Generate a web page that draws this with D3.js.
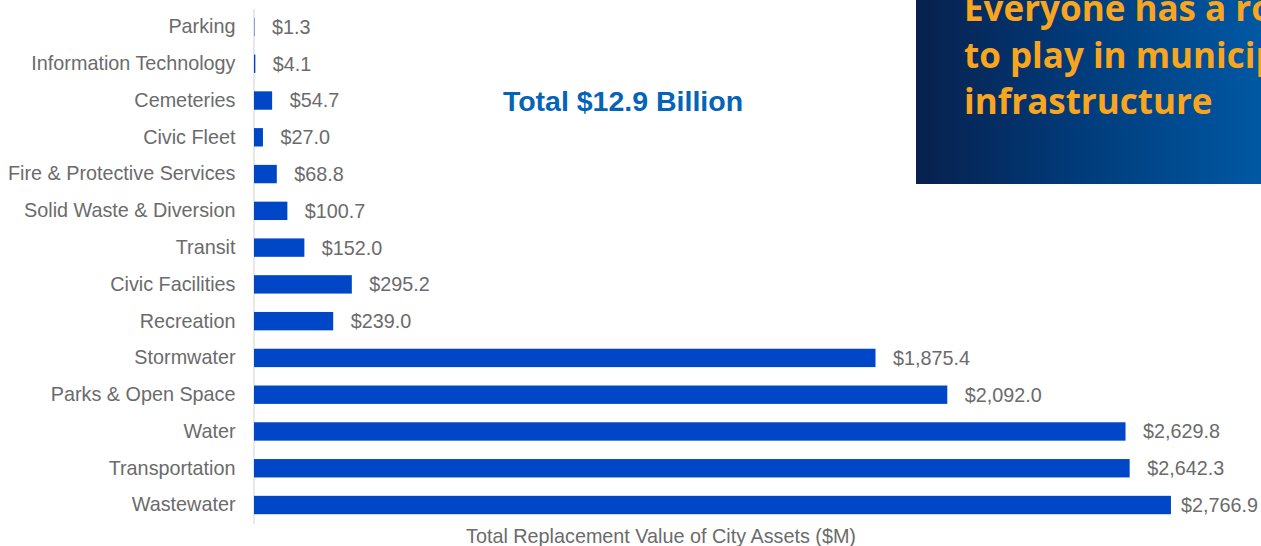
<!doctype html>
<html lang="en">
<head>
 <meta charset="utf-8">
 <title>City assets</title>
 <style>
 body{margin:0;background:#fff;}
 svg{display:block;font-family:"Liberation Sans",Arial,sans-serif;}
 </style>
 <script src="https://cdnjs.cloudflare.com/ajax/libs/d3/7.8.5/d3.min.js"></script>
</head>
<body>
 <svg width="1261" height="546"></svg>
 <script>

 const categories=["Parking","Information Technology","Cemeteries","Civic Fleet","Fire & Protective Services","Solid Waste & Diversion","Transit","Civic Facilities","Recreation","Stormwater","Parks & Open Space","Water","Transportation","Wastewater"];
 const values=[1.3,4.1,54.7,27.0,68.8,100.7,152.0,295.2,239.0,1875.4,2092.0,2629.8,2642.3,2766.9];
 const calloutLines=["Everyone has a role","to play in municipal","infrastructure"];

 const svgwid=1261;
 const svghei=546;
 const margin={top:8.6,left:253.5,bottom:22.6,right:90};
 const width=2766.9*0.3314;
 const height=svghei-(margin.top+margin.bottom);
 const grey="#6b6b6b";

 const data=categories.map((c,i)=>({name:c,value:values[i]}));

 const svg=d3.select("svg");

 // callout box, top right
 const defs=svg.append("defs");
 const grad=defs.append("linearGradient").attr("id","boxgrad")
 .attr("x1","0%").attr("x2","100%").attr("y1","0%").attr("y2","0%");
 grad.append("stop").attr("offset","0%").attr("stop-color","#08204d");
 grad.append("stop").attr("offset","45%").attr("stop-color","#013a78");
 grad.append("stop").attr("offset","100%").attr("stop-color","#0058a3");

 svg.append("rect")
 .attr("x",916).attr("y",0)
 .attr("width",345).attr("height",184)
 .attr("fill","url(#boxgrad)");

 svg.append("g").selectAll("text")
 .data(calloutLines)
 .enter()
 .append("text")
 .attr("x",964)
 .attr("y",(d,i)=>21+i*46.5)
 .text(d=>d)
 .style("font-family","'Open Sans', Lato, sans-serif")
 .style("font-weight","bold")
 .style("font-size","35px")
 .style("fill","#f9a51e");

 const xScale=d3.scaleLinear()
 .domain([0,2766.9])
 .range([0,width]);

 const yScale=d3.scaleBand()
 .domain(categories)
 .range([0,height])
 .paddingInner(0.5)
 .paddingOuter(0.25);

 const g=svg.append("g")
 .attr("transform",`translate(${margin.left},${margin.top})`);

 // category axis
 const yAxis=d3.axisLeft(yScale).tickSize(0).tickPadding(18);
 const ya=g.append("g").attr("class","yAxis").call(yAxis);
 ya.select(".domain").attr("stroke","#d9d9d9").attr("stroke-width",1.2);
 ya.selectAll("text")
 .style("font-family","'Liberation Sans',Arial,sans-serif")
 .style("font-size","19.8px")
 .style("fill",grey);

 g.selectAll(".bar")
 .data(data)
 .enter()
 .append("rect")
 .attr("class","bar")
 .attr("x",0.5)
 .attr("y",d=>yScale(d.name))
 .attr("width",d=>xScale(d.value))
 .attr("height",yScale.bandwidth())
 .attr("fill","#0047c8");

 const fmt=d3.format(",.1f");
 g.selectAll(".val")
 .data(data)
 .enter()
 .append("text")
 .attr("class","val")
 .attr("x",d=>Math.min(xScale(d.value)+18,svgwid-margin.left-80))
 .attr("y",d=>yScale(d.name)+yScale.bandwidth()/2)
 .attr("dy","0.35em")
 .text(d=>"$"+fmt(d.value))
 .style("font-size","19.8px")
 .style("fill",grey);

 svg.append("text")
 .attr("x",661)
 .attr("y",543)
 .attr("text-anchor","middle")
 .text("Total Replacement Value of City Assets ($M)")
 .style("font-size","19.8px")
 .style("fill",grey);

 svg.append("text")
 .attr("x",623)
 .attr("y",111)
 .attr("text-anchor","middle")
 .text("Total $12.9 Billion")
 .style("font-size","28.5px")
 .style("font-weight","bold")
 .style("fill","#0563b8");

 </script>
</body>
</html>
